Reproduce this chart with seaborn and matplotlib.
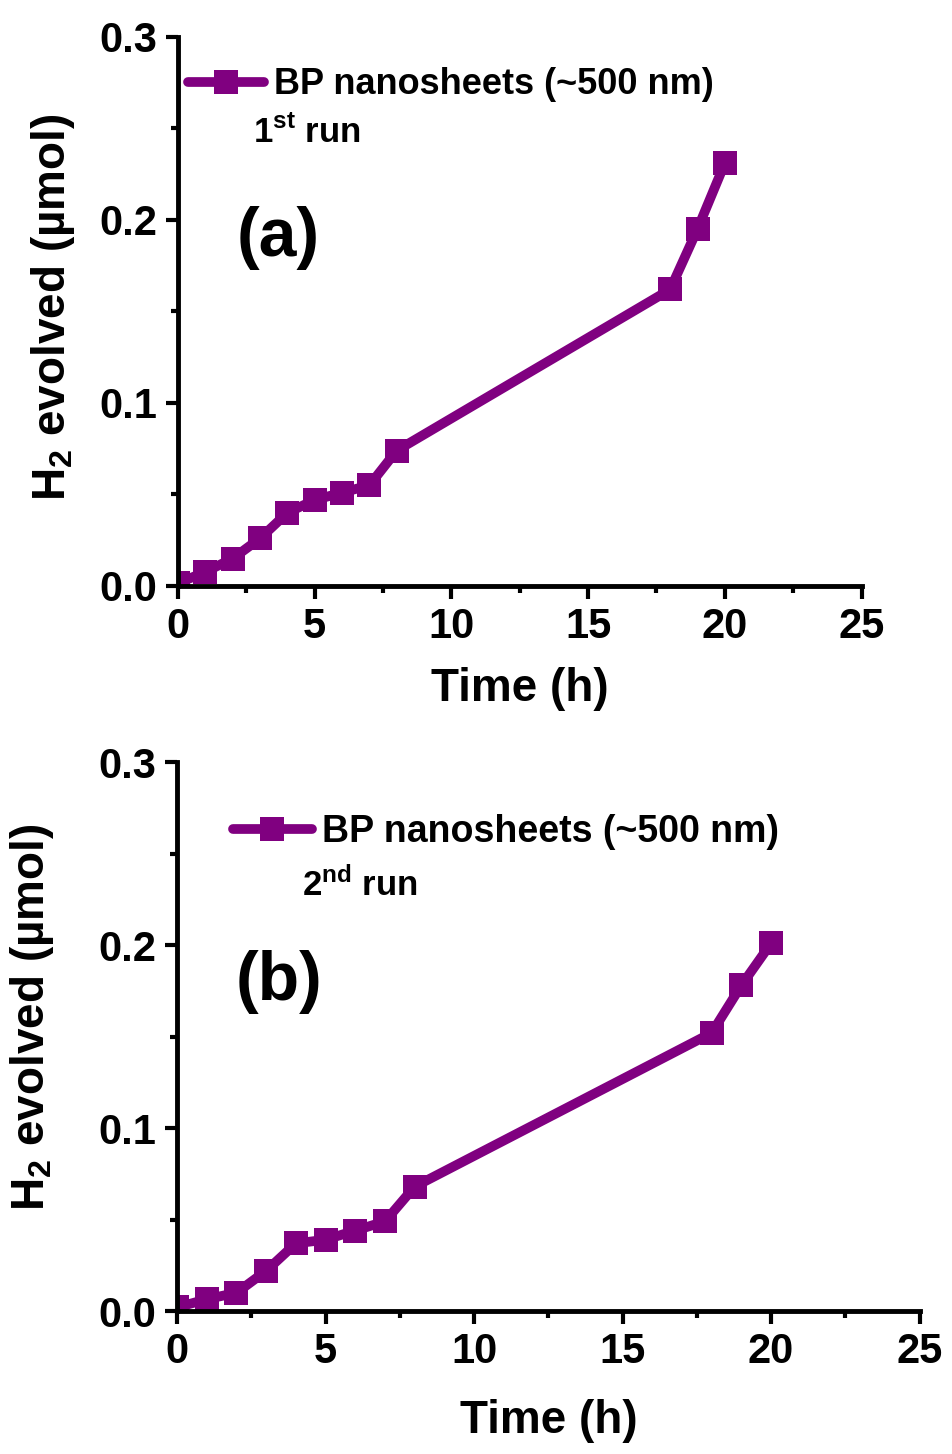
import matplotlib
matplotlib.use("Agg")
import matplotlib.pyplot as plt
import seaborn as sns
import numpy as np
from matplotlib.ticker import MultipleLocator

# Data
time_h = [0, 1, 2, 3, 4, 5, 6, 7, 8, 18, 19, 20]
h2_run1 = [0.0015, 0.0077, 0.015, 0.026, 0.040, 0.047, 0.051, 0.055, 0.074, 0.162, 0.195, 0.231]
h2_run2 = [0.002, 0.0065, 0.010, 0.022, 0.037, 0.039, 0.044, 0.049, 0.068, 0.152, 0.178, 0.201]
legend_label = "BP nanosheets (~500 nm)"
run_labels = [r"1$^{\mathbf{st}}$ run", r"2$^{\mathbf{nd}}$ run"]
panel_labels = ["(a)", "(b)"]
xticks = [0, 5, 10, 15, 20, 25]
yticks = [0.0, 0.1, 0.2, 0.3]

sns.set_style("ticks")
plt.rcParams['font.family'] = ['Liberation Sans', 'DejaVu Sans']
plt.rcParams['font.weight'] = 'bold'
plt.rcParams['mathtext.fontset'] = 'custom'
plt.rcParams['mathtext.rm'] = 'Liberation Sans:bold'
plt.rcParams['mathtext.bf'] = 'Liberation Sans:bold'
plt.rcParams['mathtext.it'] = 'Liberation Sans:bold'
for k in ['text.color', 'axes.labelcolor', 'xtick.color', 'ytick.color', 'axes.edgecolor']:
    plt.rcParams[k] = 'black'

color = "#800080"
fig = plt.figure(figsize=(9.52, 14.54), dpi=100)
axA = fig.add_axes([0.187, 0.597, 0.718, 0.3776])
axB = fig.add_axes([0.186, 0.0983, 0.780, 0.3776])

configs = [
    (axA, h2_run1, (0.0146, 0.9126), (0.11, 0.825), (0.146, 0.634), (-0.148, 0.507), -0.148, 26),
    (axB, h2_run2, (0.075, 0.8725), (0.168, 0.776), (0.137, 0.599), (-0.163, 0.535), -0.160, 27),
]

for i, (ax, yvals, leg_pos, run_pos, pan_pos, ylab_pos, xlab_y, legsize) in enumerate(configs):
    sns.lineplot(x=time_h, y=yvals, ax=ax, color=color, linewidth=7,
                 marker='s', markersize=17, markeredgewidth=0,
                 label=legend_label, solid_capstyle='round')
    ax.set_xlim(0, 25)
    ax.set_ylim(0, 0.3)
    ax.set_xticks(xticks)
    ax.set_yticks(yticks)
    ax.xaxis.set_minor_locator(MultipleLocator(2.5))
    ax.yaxis.set_minor_locator(MultipleLocator(0.05))
    ax.set_xticklabels([str(t) for t in xticks], fontsize=30, fontweight='bold')
    ax.set_yticklabels([f"{t:.1f}" for t in yticks], fontsize=30, fontweight='bold')
    ax.tick_params(axis='both', which='major', direction='out', length=9, width=3, pad=6)
    ax.tick_params(axis='both', which='minor', direction='out', length=5, width=3)
    for s in ['top', 'right']:
        ax.spines[s].set_visible(False)
    for s in ['left', 'bottom']:
        ax.spines[s].set_linewidth(3.5)
    ax.set_xlabel("Time (h)", fontsize=33, fontweight='bold')
    ax.set_ylabel(r"H$_{\mathbf{2}}$ evolved (µmol)", fontsize=33, fontweight='bold')
    ax.yaxis.set_label_coords(*ylab_pos)
    ax.xaxis.set_label_coords(0.5, xlab_y)
    ax.legend(loc='center left', bbox_to_anchor=leg_pos, frameon=False,
              borderpad=0, borderaxespad=0, handlelength=2.1, handletextpad=0.28,
              prop={'size': legsize, 'weight': 'bold'})
    ax.text(run_pos[0], run_pos[1], run_labels[i], transform=ax.transAxes,
            fontsize=25, fontweight='bold', va='center', ha='left')
    ax.text(pan_pos[0], pan_pos[1], panel_labels[i], transform=ax.transAxes,
            fontsize=49, fontweight='bold', va='center', ha='center')

fig.savefig("out.png", dpi=100, facecolor='white')
